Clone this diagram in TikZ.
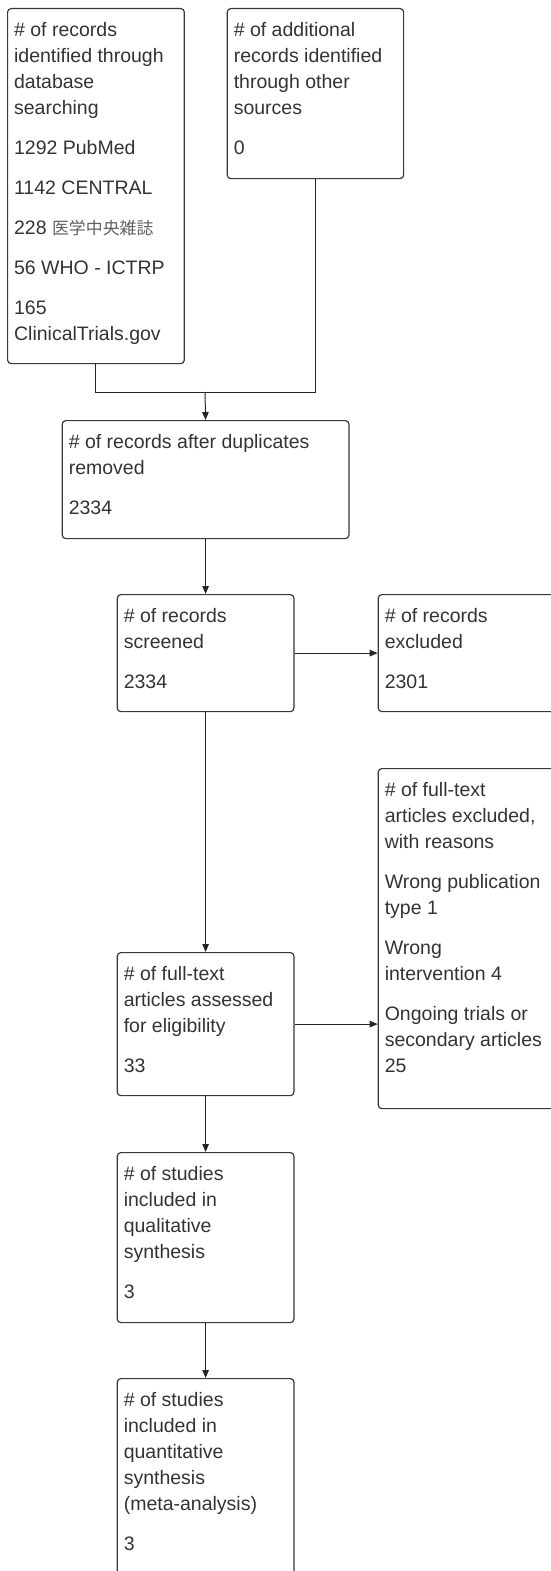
\documentclass[tikz,border=0pt]{standalone}
\usepackage{fontspec}
\setmainfont{Liberation Sans}
\newfontfamily\cjkjp{Noto Sans CJK JP}
\usetikzlibrary{arrows.meta}
\newcommand\bxtext[3]{\parbox[c][\dimexpr#2pt-18.6pt\relax][t]{\dimexpr#1pt-13pt\relax}{\raggedright\strut#3}}
\tikzset{
  flowbox/.style={draw=black!78, line width=1.2pt, rounded corners=3.5pt, anchor=north west,
    inner xsep=6.5pt, inner ysep=9.3pt, text=black!80,
    font=\fontsize{19.5pt}{26pt}\selectfont},
  conn/.style={draw=black!85, line width=1pt},
  arr/.style={conn, -{Triangle[length=8pt,width=6.5pt]}}
}
\begin{document}
\begin{tikzpicture}[x=1pt,y=-1pt]
\useasboundingbox (0,0) rectangle (551,1571);
\node[flowbox, minimum width=176.7pt, minimum height=355pt] (n1) at (7,8)
  {\bxtext{176.7}{355}{\# of records\\identified through\\database\\searching\\[14pt]1292 PubMed\\[14pt]1142 CENTRAL\\[14pt]228 {\cjkjp\fontsize{16.9pt}{26pt}\selectfont\color{black!62}医学中央雑誌}\\[14pt]56 WHO - ICTRP\\[14pt]165\\ClinicalTrials.gov}};
\node[flowbox, minimum width=176.3pt, minimum height=170pt] (n2) at (226.7,8)
  {\bxtext{176.3}{170}{\# of additional\\records identified\\through other\\sources\\[14pt]0}};
\node[flowbox, minimum width=286.6pt, minimum height=118pt] (n3) at (61.7,420)
  {\bxtext{286.6}{118}{\# of records after duplicates\\removed\\[14pt]2334}};
\node[flowbox, minimum width=176.6pt, minimum height=117pt] (n4) at (116.7,594)
  {\bxtext{176.6}{117}{\# of records\\screened\\[14pt]2334}};
\node[flowbox, minimum width=177pt, minimum height=117pt] (n5) at (377.7,594)
  {\bxtext{177}{117}{\# of records\\excluded\\[14pt]2301}};
\node[flowbox, minimum width=177pt, minimum height=340pt] (n6) at (377.7,768)
  {\bxtext{177}{340}{\# of full-text\\articles excluded,\\with reasons\\[14pt]Wrong publication\\type 1\\[14pt]Wrong\\intervention 4\\[14pt]Ongoing trials or\\secondary articles\\25}};
\node[flowbox, minimum width=176.6pt, minimum height=143pt] (n7) at (116.7,952)
  {\bxtext{176.6}{143}{\# of full-text\\articles assessed\\for eligibility\\[14pt]33}};
\node[flowbox, minimum width=176.6pt, minimum height=170pt] (n8) at (116.7,1152)
  {\bxtext{176.6}{170}{\# of studies\\included in\\qualitative\\synthesis\\[14pt]3}};
\node[flowbox, minimum width=176.6pt, minimum height=196pt] (n9) at (116.7,1378)
  {\bxtext{176.6}{196}{\# of studies\\included in\\quantitative\\synthesis\\(meta-analysis)\\[14pt]3}};
\coordinate (j) at (205,392);
\draw[conn] (n1.south) |- (j);
\draw[conn] (n2.south) |- (j);
\draw[arr] (j) -- (n3.north);
\draw[arr] (n3.south) -- (n4.north);
\draw[arr] (n4.east) -- (n5.west);
\draw[arr] (n4.south) -- (n7.north);
\draw[arr] (n7.east) -- (n7.east -| n6.west);
\draw[arr] (n7.south) -- (n8.north);
\draw[arr] (n8.south) -- (n9.north);
\end{tikzpicture}
\end{document}
